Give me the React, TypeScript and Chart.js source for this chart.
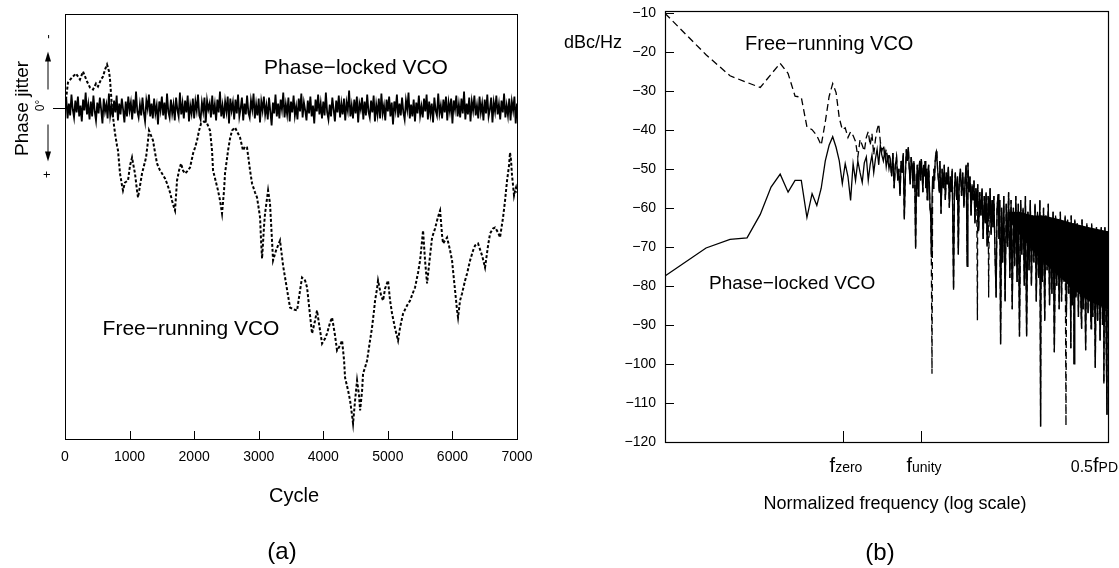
import React, { useEffect, useRef } from "react";
import { Chart, registerables } from "chart.js";

Chart.register(...registerables);

const W = 1119;
const H = 568;
const FONT = "'Liberation Sans', Arial, Helvetica, sans-serif";

// ---------------- Panel (a): phase jitter vs cycle ----------------
const cycleTicks = [0, 1000, 2000, 3000, 4000, 5000, 6000, 7000];
const lockedStepCycles = 20;
const lockedJitter = [
  0.3, -0.9, 1.1, -0.4, 0.8, -1.3, 0.2, 1.0, -0.7, 0.5, -1.1, 0.9, -0.2, 1.4, -0.8, 0.3, -1.5, 0.7, -0.3, 1.2,
  -0.6, 0.9, -1.2, 0.4, 1.3, -0.5, 0.6, -1.0, 0.2, 1.6, -0.9, 0.4, -0.3, 1.1, -1.4, 0.8, -0.1, 1.0, -0.7, 0.5,
  -1.2, 1.3, -0.4, 0.7, -0.9, 0.2, 1.5, -0.6, 0.9, -1.1, 0.3, -0.5, 1.2, -0.8, 0.6, -1.6, 0.4, 1.0, -0.3, 0.8,
  -1.0, 0.5, 1.4, -0.7, 0.1, -1.3, 0.9, -0.4, 1.1, -0.9, 0.6, -0.2, 1.7, -0.6, 0.3, -1.1, 0.8, -0.5, 1.2, -1.4,
  0.4, 1.0, -0.8, 0.6, -0.3, 1.3, -1.0, 0.2, 0.9, -1.5, 0.7, -0.4, 1.1, -0.7, 0.5, -1.2, 1.4, -0.2, 0.6, -0.9,
  1.1, -0.6, 0.3, -1.3, 0.8, 1.2, -0.5, 0.4, -1.0, 1.5, -0.7, 0.2, -0.4, 1.0, -1.2, 0.7, -0.3, 1.3, -0.8, 0.5,
  -1.6, 0.9, -0.2, 1.1, -0.6, 0.4, -1.1, 1.6, -0.9, 0.3, -0.5, 1.2, -0.8, 0.6, -1.3, 0.9, 0.1, -1.0, 1.3, -0.4,
  0.7, -1.2, 0.5, 1.0, -0.7, 0.2, -1.4, 1.1, -0.3, 0.8, -0.9, 1.5, -0.6, 0.3, -1.1, 0.7, -0.2, 1.2, -1.0, 0.4,
  1.8, -0.5, 0.6, -1.3, 0.9, -0.4, 1.1, -0.8, 0.2, -1.5, 1.0, -0.3, 0.7, -1.0, 1.4, -0.6, 0.5, -1.2, 0.8, -0.1,
  1.2, -0.9, 0.4, -1.4, 1.0, -0.5, 0.3, 1.3, -0.7, 0.6, -1.1, 0.9, -0.2, 1.6, -0.8, 0.4, -1.3, 0.7, -0.4, 1.1,
  -0.6, 0.8, -1.5, 0.5, 1.2, -0.3, 0.9, -1.0, 0.2, 1.4, -0.7, 0.5, -1.2, 1.0, -0.4, 0.7, -0.9, 1.3, -0.5, 0.3,
  -1.7, 0.9, -0.2, 1.1, -0.8, 0.6, -1.1, 1.5, -0.4, 0.2, -1.0, 1.2, -0.6, 0.8, -1.3, 0.4, 1.0, -0.7, 0.5, -1.2,
  1.4, -0.3, 0.7, -0.9, 1.1, -1.4, 0.6, -0.2, 1.3, -0.8, 0.4, -1.1, 0.9, -0.5, 1.7, -0.6, 0.3, -1.3, 1.0, -0.4,
  0.8, -1.0, 0.5, 1.2, -0.7, 0.2, -1.5, 1.1, -0.3, 0.9, -0.8, 1.4, -0.5, 0.6, -1.2, 0.8, -0.1, 1.0, -0.9, 0.4,
  -1.3, 1.2, -0.6, 0.7, -0.4, 1.5, -1.0, 0.3, 0.8, -1.4, 0.6, -0.2, 1.1, -0.8, 0.5, -1.1, 1.3, -0.5, 0.4, -0.9,
  1.6, -0.7, 0.2, -1.2, 0.9, -0.3, 1.0, -0.9, 0.6, -1.6, 1.2, -0.4, 0.7, -1.0, 1.4, -0.6, 0.3, -1.2, 0.8, -0.2,
  1.1, -1.1, 0.5, -0.4, 1.3, -0.8, 0.6, -1.3, 0.9, 0.2, -1.0, 1.5, -0.5, 0.4, -1.2, 0.7, -0.3, 1.2, -0.7, 0.5,
  -1.4, 1.0, -0.2, 0.8, -0.9, 1.3, -0.6, 0.3, -1.1, 1.6, -0.4,
];
const freeCycles = [
  15, 46, 108, 170, 232, 279, 341, 387, 434, 480, 511, 558, 589, 620, 651, 682, 697, 728, 759, 775,
  805, 821, 852, 883, 898, 929, 976, 1007, 1038, 1069, 1084, 1115, 1131, 1162, 1193, 1224, 1255, 1286, 1301, 1332,
  1363, 1394, 1425, 1472, 1503, 1549, 1580, 1627, 1657, 1688, 1704, 1735, 1766, 1797, 1828, 1859, 1905, 1936, 1967, 1983,
  2014, 2045, 2076, 2107, 2153, 2200, 2246, 2277, 2293, 2339, 2370, 2401, 2432, 2463, 2478, 2509, 2525, 2556, 2587, 2633,
  2680, 2711, 2757, 2788, 2819, 2866, 2897, 2943, 2974, 3005, 3021, 3036, 3052, 3083, 3098, 3145, 3175, 3206, 3222, 3268,
  3330, 3377, 3408, 3454, 3485, 3547, 3594, 3640, 3671, 3718, 3749, 3795, 3826, 3873, 3903, 3950, 3981, 4027, 4058, 4105,
  4136, 4182, 4213, 4260, 4291, 4322, 4337, 4384, 4415, 4446, 4461, 4492, 4523, 4554, 4570, 4601, 4616, 4647, 4678, 4724,
  4755, 4786, 4802, 4833, 4848, 4895, 4926, 4957, 5003, 5034, 5065, 5112, 5158, 5189, 5236, 5297, 5344, 5390, 5421, 5468,
  5499, 5530, 5545, 5576, 5607, 5654, 5685, 5731, 5762, 5793, 5809, 5840, 5855, 5886, 5917, 5964, 5994, 6025, 6041, 6072,
  6087, 6118, 6149, 6196, 6227, 6273, 6320, 6351, 6397, 6459, 6505, 6552, 6583, 6629, 6660, 6707, 6737, 6784, 6815, 6846,
  6877, 6892, 6908, 6923, 6939, 6954, 6970, 6985, 7000,
];
const freeJitter = [
  -0.8, -2.5, -3.0, -3.4, -2.8, -3.6, -2.6, -2.0, -1.8, -2.4, -2.1, -2.8, -3.1, -3.8, -4.3, -3.6, -2.8, 0.0, 1.8, 2.6,
  3.8, 4.3, 6.6, 7.8, 8.3, 7.5, 7.3, 5.8, 5.0, 6.1, 6.6, 8.3, 9.0, 7.8, 6.6, 5.8, 5.0, 3.3, 2.3, 2.8,
  3.3, 4.5, 5.6, 6.3, 6.6, 7.1, 7.6, 8.5, 9.3, 10.0, 10.3, 7.3, 6.3, 5.6, 6.3, 6.6, 6.3, 6.0, 5.1, 4.6,
  4.0, 3.3, 2.3, 1.6, 1.4, 1.6, 2.3, 4.3, 6.3, 7.5, 8.3, 9.3, 10.6, 8.3, 6.6, 5.1, 4.3, 3.1, 2.3, 2.0,
  2.6, 3.0, 4.3, 3.9, 4.0, 6.3, 7.6, 8.5, 9.0, 10.3, 11.0, 13.3, 15.1, 11.8, 10.6, 8.3, 9.6, 13.3, 15.3, 14.3,
  13.3, 15.8, 17.0, 18.8, 20.0, 20.2, 20.3, 18.3, 17.0, 17.3, 18.0, 20.8, 22.6, 21.3, 20.3, 22.3, 23.6, 23.1, 22.6, 21.5,
  21.0, 22.8, 24.3, 23.8, 23.3, 25.3, 27.0, 28.3, 29.3, 30.8, 31.6, 29.3, 27.3, 28.8, 30.3, 28.3, 26.6, 26.0, 25.3, 23.3,
  22.0, 20.3, 19.3, 18.1, 17.3, 18.8, 19.3, 18.1, 17.3, 19.3, 20.6, 22.1, 23.3, 22.0, 20.6, 19.8, 19.3, 18.5, 18.0, 16.5,
  15.3, 13.3, 12.3, 15.3, 17.6, 14.8, 13.0, 12.1, 11.3, 10.6, 10.3, 12.8, 13.6, 13.3, 13.0, 14.3, 15.3, 17.3, 18.3, 20.3,
  21.0, 19.3, 18.6, 17.3, 16.6, 15.3, 14.3, 13.8, 13.6, 14.8, 16.0, 13.8, 12.6, 12.1, 12.0, 12.5, 13.0, 11.0, 9.3, 7.3,
  5.8, 4.5, 5.3, 6.8, 7.8, 8.8, 8.3, 8.0, 8.5,
];

// ---------------- Panel (b): phase-noise spectrum ----------------
const dbTicks = [-10, -20, -30, -40, -50, -60, -70, -80, -90, -100, -110, -120];
const lowBins = [
  1, 2, 3, 4, 5, 6, 7, 8, 9, 10, 11, 12, 13, 14, 15, 16, 17, 18, 19, 20, 21, 22,
  23, 24, 25, 26, 27, 28, 29, 30, 31, 32, 33, 34, 35, 36, 37, 38, 39, 40, 41, 42, 43, 44,
];
const freeLowDb = [
  -10.2, -20.8, -26.2, -27.9, -29.2, -25.8, -23.0, -25.6, -31.4, -31.7,
  -39.3, -40.0, -41.5, -44.0, -38.0, -31.5, -28.2, -30.5, -37.0, -40.0,
  -39.5, -42.0, -40.5, -41.5, -43.0, -47.0, -42.5, -44.0, -45.5, -42.0,
  -40.5, -44.0, -41.0, -46.5, -42.5, -40.0, -38.5, -43.0, -45.5, -44.0,
  -47.0, -45.0, -48.5, -46.0,
];
const lockedLowDb = [
  -77.5, -70.3, -68.1, -67.7, -61.7, -54.7, -51.4, -56.0, -53.0, -53.0,
  -62.5, -56.4, -59.4, -55.0, -48.0, -44.0, -41.8, -44.5, -48.0, -53.8,
  -48.7, -52.0, -58.1, -48.7, -53.0, -48.0, -51.0, -53.5, -48.5, -47.0,
  -53.0, -49.0, -46.5, -51.0, -47.5, -45.0, -49.0, -44.0, -46.5, -48.0,
  -45.5, -49.5, -47.0, -50.0,
];
const denseBins = [
  45, 46, 47, 48, 49, 50, 51, 52, 53, 54, 55, 56, 57, 58, 59, 60, 61, 62, 63, 64,
  65, 66, 67, 68, 69, 70, 71, 72, 73, 74, 75, 76, 77, 78, 79, 80, 81, 82, 83, 84,
  85, 86, 87, 88, 89, 90, 91, 92, 93, 94, 95, 96, 97, 98, 99, 100, 101, 103, 104, 106,
  108, 110, 112, 114, 116, 118, 120, 122, 124, 126, 128, 131, 133, 135, 138, 140, 142, 144, 147, 150,
  153, 156, 159, 162, 165, 167, 170, 173, 176, 179, 182, 185, 188, 191, 194, 197, 200, 204, 208, 212,
  216, 220, 224, 227, 231, 235, 239, 243, 247, 251, 255, 259, 264, 269, 273, 278, 282, 286, 290, 295,
  300, 306, 313, 319, 326, 332, 339, 346, 353, 360, 368, 375, 383, 391, 399, 407, 415, 424, 433, 441,
  450, 460, 469, 479, 488, 498, 509, 519, 530, 541, 552, 563, 570, 575, 587, 599, 611, 623, 636, 649,
  663, 676, 690, 704, 719, 734, 749, 764, 780, 796, 812, 829, 846, 863, 881, 899, 918, 936, 950, 956,
  975, 995, 1003, 1016, 1037, 1058, 1080, 1102, 1125, 1140, 1148, 1171, 1195, 1220, 1245, 1271, 1297, 1323, 1340, 1350,
  1378, 1407, 1436, 1465, 1495, 1526, 1557, 1589, 1622, 1655, 1660, 1689, 1724, 1750, 1760, 1780,
];
const denseDb = [
  -48, -52, -46, -55, -49, -47, -53, -50, -57, -48, -51, -46, -63, -52, -45, -48, -44.5, -50, -54, -47,
  -49, -55, -48, -52, -70.5, -54, -49, -57, -50, -48, -53, -47.5, -51, -56, -49, -52, -48, -55, -50, -58,
  -51, -49, -54, -60, -62, -72.5, -58, -52, -55, -50, -53, -48, -46, -45.5, -47, -50, -52, -56, -48, -61.5,
  -50, -55, -49, -58, -51, -54, -49.5, -60, -52, -56, -50, -81, -55, -51, -58, -52, -72, -54, -50, -57,
  -51, -60, -53, -49, -75, -48.5, -56, -52, -62, -54, -58, -53, -64, -55, -60, -54, -66, -56, -62, -55,
  -68, -57, -64, -56, -70, -57, -63, -55, -67, -58, -65, -57, -72, -83, -60, -56.5, -68, -58, -95, -60,
  -74, -57, -84, -59, -70, -56, -78, -58, -86, -60, -75, -57, -79, -59, -93, -58, -72, -60, -80, -57,
  -93, -61, -76, -58, -80, -62, -74, -59, -84, -61, -78, -58, -116, -62, -79, -60, -89, -62, -76, -59,
  -85, -63, -82, -61, -97, -62, -80, -63, -86, -61, -84, -64, -79, -62, -88, -63, -82, -64, -96, -62,
  -85, -64, -100, -63, -83, -64, -88, -65, -84, -91, -63, -86, -65, -96.5, -64, -87, -66, -85, -91, -64,
  -88, -66, -101, -65, -89, -66, -94, -65, -90, -67, -105, -65, -92, -113, -66, -75,
];
const freeSpikeBins = [91, 196, 237, 875];
const freeSpikeDb = [-102.5, -88.8, -83, -115.8];
const bandBins = [330, 400, 500, 600, 800, 1000, 1300, 1780];
const bandUpperDb = [-61, -61, -62, -62, -63, -64, -65, -66];
const bandLowerDb = [-63, -67, -71, -74, -78, -81, -84, -86];
const freqTickBins = [20.4, 75, 1780];
const freqTickPrefix = ["", "", "0.5"];
const freqTickSub = ["zero", "unity", "PD"];

// ---------------- helpers ----------------
function text(ctx: CanvasRenderingContext2D, s: string, x: number, y: number, size: number, align: CanvasTextAlign = "center", rot = 0) {
  ctx.save();
  ctx.translate(x, y);
  if (rot) ctx.rotate(rot);
  ctx.font = `${size}px ${FONT}`;
  ctx.fillStyle = "#000";
  ctx.textAlign = align;
  ctx.textBaseline = "middle";
  ctx.fillText(s, 0, 0);
  ctx.restore();
}
function line(ctx: CanvasRenderingContext2D, x1: number, y1: number, x2: number, y2: number) {
  ctx.beginPath();
  ctx.moveTo(x1, y1);
  ctx.lineTo(x2, y2);
  ctx.stroke();
}

const decorA = {
  id: "decorA",
  afterDraw(chart: any) {
    const { ctx, chartArea: a } = chart;
    const xs = chart.scales.x;
    const ys = chart.scales.y;
    ctx.save();
    ctx.strokeStyle = "#000";
    ctx.lineWidth = 1;
    ctx.strokeRect(a.left + 0.5, a.top + 0.5, a.right - a.left, a.bottom - a.top);
    for (const v of cycleTicks) {
      const px = Math.round(xs.getPixelForValue(v)) + 0.5;
      line(ctx, px, a.bottom, px, a.bottom - 8);
    }
    const y0 = Math.round(ys.getPixelForValue(0)) + 0.5;
    line(ctx, a.left - 12, y0, a.left, y0);
    // y-axis annotation
    const ax = a.left - 17;
    text(ctx, "Phase jitter", a.left - 42, y0, 19, "center", -Math.PI / 2);
    text(ctx, "0\u00B0", a.left - 24, y0 - 3, 12, "center", -Math.PI / 2);
    text(ctx, "-", ax, y0 - 72, 13, "center", -Math.PI / 2);
    text(ctx, "+", ax, y0 + 66, 12, "center", -Math.PI / 2);
    ctx.lineWidth = 1;
    line(ctx, ax, y0 - 19, ax, y0 - 50);
    line(ctx, ax, y0 + 16, ax, y0 + 46);
    ctx.fillStyle = "#000";
    ctx.beginPath();
    ctx.moveTo(ax, y0 - 57);
    ctx.lineTo(ax - 3, y0 - 47);
    ctx.lineTo(ax + 3, y0 - 47);
    ctx.closePath();
    ctx.fill();
    ctx.beginPath();
    ctx.moveTo(ax, y0 + 53);
    ctx.lineTo(ax - 3, y0 + 43);
    ctx.lineTo(ax + 3, y0 + 43);
    ctx.closePath();
    ctx.fill();
    // annotations
    text(ctx, "Phase\u2212locked VCO", 356, 68, 21);
    text(ctx, "Free\u2212running VCO", 191, 329, 21);
    text(ctx, "Cycle", (a.left + a.right) / 2 + 3, 496, 20);
    text(ctx, "(a)", (a.left + a.right) / 2 - 9, 552, 24);
    ctx.restore();
  },
};

const decorB = {
  id: "decorB",
  afterDraw(chart: any) {
    const { ctx, chartArea: a } = chart;
    const xs = chart.scales.x;
    const ys = chart.scales.y;
    ctx.save();
    ctx.strokeStyle = "#000";
    ctx.lineWidth = 1.2;
    ctx.strokeRect(a.left + 0.5, a.top + 0.5, a.right - a.left, a.bottom - a.top);
    ctx.lineWidth = 1;
    for (const v of dbTicks) {
      const py = Math.round(ys.getPixelForValue(v)) + 0.5;
      line(ctx, a.left, py, a.left + 9, py);
      text(ctx, "\u2212" + Math.abs(v), a.left - 9, py, 14, "right");
    }
    freqTickBins.forEach((k, i) => {
      const px = Math.round(xs.getPixelForValue(k)) + 0.5;
      if (i < freqTickBins.length - 1) line(ctx, px, a.bottom, px, a.bottom - 11);
      const parts = [
        { s: freqTickPrefix[i], size: 16 },
        { s: "f", size: 20 },
        { s: freqTickSub[i], size: 14 },
      ];
      const widths = parts.map((p) => {
        ctx.font = `${p.size}px ${FONT}`;
        return ctx.measureText(p.s).width;
      });
      const total = widths.reduce((s, w) => s + w, 0);
      let cx = px + 2.5 - total / 2;
      if (cx + total > W) cx = W - total - 1;
      ctx.fillStyle = "#000";
      ctx.textAlign = "left";
      ctx.textBaseline = "alphabetic";
      parts.forEach((p, j) => {
        ctx.font = `${p.size}px ${FONT}`;
        ctx.fillText(p.s, cx, a.bottom + 30);
        cx += widths[j];
      });
    });
    text(ctx, "dBc/Hz", a.left - 72, 43, 18);
    text(ctx, "Free\u2212running VCO", 745, 44, 20, "left");
    text(ctx, "Phase\u2212locked VCO", 709, 284, 19, "left");
    text(ctx, "Normalized frequency (log scale)", 895, 504, 18);
    text(ctx, "(b)", 880, 553, 24);
    ctx.restore();
  },
};

function makeChartA(canvas: HTMLCanvasElement) {
  const lockedData = lockedJitter.map((v, i) => ({ x: i * lockedStepCycles, y: v }));
  const freeData = freeCycles.map((c, i) => ({ x: c, y: freeJitter[i] }));
  return new Chart(canvas, {
    type: "line",
    data: {
      datasets: [
        { data: freeData, borderColor: "#000", borderWidth: 2, borderDash: [3, 2], pointRadius: 0, tension: 0, fill: false },
        { data: lockedData, borderColor: "#000", borderWidth: 1.8, pointRadius: 0, tension: 0, fill: false },
      ],
    },
    options: {
      responsive: false,
      animation: false,
      devicePixelRatio: 1,
      events: [],
      layout: { padding: { left: 65, right: W - 517, top: 14, bottom: 0 } },
      plugins: { legend: { display: false }, tooltip: { enabled: false } },
      scales: {
        x: {
          type: "linear",
          min: 0,
          max: 7000,
          afterBuildTicks: (s: any) => {
            s.ticks = cycleTicks.map((v) => ({ value: v }));
          },
          afterFit: (s: any) => {
            s.height = H - 439;
          },
          grid: { display: false, drawTicks: false },
          border: { display: false },
          ticks: {
            font: { size: 14, family: FONT },
            color: "#000",
            padding: 10,
            maxRotation: 0,
            autoSkip: false,
            callback: (v: any) => String(v),
          },
        },
        y: { type: "linear", display: false, reverse: true, min: -9.35, max: 33.15 },
      },
    },
    plugins: [decorA],
  } as any);
}

function makeChartB(canvas: HTMLCanvasElement) {
  const lockedData = [
    ...lowBins.map((k, i) => ({ x: k, y: lockedLowDb[i] })),
    ...denseBins.map((k, i) => ({ x: k, y: denseDb[i] })),
  ];
  const freeDense = [
    ...denseBins.filter((k) => !freeSpikeBins.includes(k)).map((k) => ({ x: k, y: denseDb[denseBins.indexOf(k)] })),
    ...freeSpikeBins.map((k, i) => ({ x: k, y: freeSpikeDb[i] })),
  ].sort((p, q) => p.x - q.x);
  const freeData = [...lowBins.map((k, i) => ({ x: k, y: freeLowDb[i] })), ...freeDense];
  const upper = bandBins.map((k, i) => ({ x: k, y: bandUpperDb[i] }));
  const lower = bandBins.map((k, i) => ({ x: k, y: bandLowerDb[i] }));
  return new Chart(canvas, {
    type: "line",
    data: {
      datasets: [
        { data: upper, borderWidth: 0, borderColor: "rgba(0,0,0,0)", backgroundColor: "#000", fill: "+1", pointRadius: 0, tension: 0 },
        { data: lower, borderWidth: 0, borderColor: "rgba(0,0,0,0)", fill: false, pointRadius: 0, tension: 0 },
        { data: lockedData, borderColor: "#000", borderWidth: 1.3, pointRadius: 0, tension: 0, fill: false },
        { data: freeData, borderColor: "#000", borderWidth: 1.3, borderDash: [7, 4], pointRadius: 0, tension: 0, fill: false },
      ],
    },
    options: {
      responsive: false,
      animation: false,
      devicePixelRatio: 1,
      events: [],
      layout: { padding: { left: 605, right: 11, top: 11, bottom: 0 } },
      plugins: { legend: { display: false }, tooltip: { enabled: false } },
      scales: {
        x: {
          type: "logarithmic",
          min: 1,
          max: 1780,
          afterFit: (s: any) => {
            s.height = H - 442;
          },
          grid: { display: false, drawTicks: false },
          border: { display: false },
          ticks: { display: false },
        },
        y: {
          type: "linear",
          min: -120,
          max: -9.6,
          afterBuildTicks: (s: any) => {
            s.ticks = dbTicks.map((v) => ({ value: v }));
          },
          afterFit: (s: any) => {
            s.width = 60;
          },
          grid: { display: false, drawTicks: false },
          border: { display: false },
          ticks: { display: false },
        },
      },
    },
    plugins: [decorB],
  } as any);
}

export default function App() {
  const refA = useRef<HTMLCanvasElement>(null);
  const refB = useRef<HTMLCanvasElement>(null);
  useEffect(() => {
    const ca = makeChartA(refA.current!);
    const cb = makeChartB(refB.current!);
    return () => {
      ca.destroy();
      cb.destroy();
    };
  }, []);
  return (
    <div style={{ position: "fixed", left: 0, top: 0, width: W, height: H, background: "#fff" }}>
      <canvas ref={refA} width={W} height={H} style={{ position: "absolute", left: 0, top: 0 }} />
      <canvas ref={refB} width={W} height={H} style={{ position: "absolute", left: 0, top: 0 }} />
    </div>
  );
}
